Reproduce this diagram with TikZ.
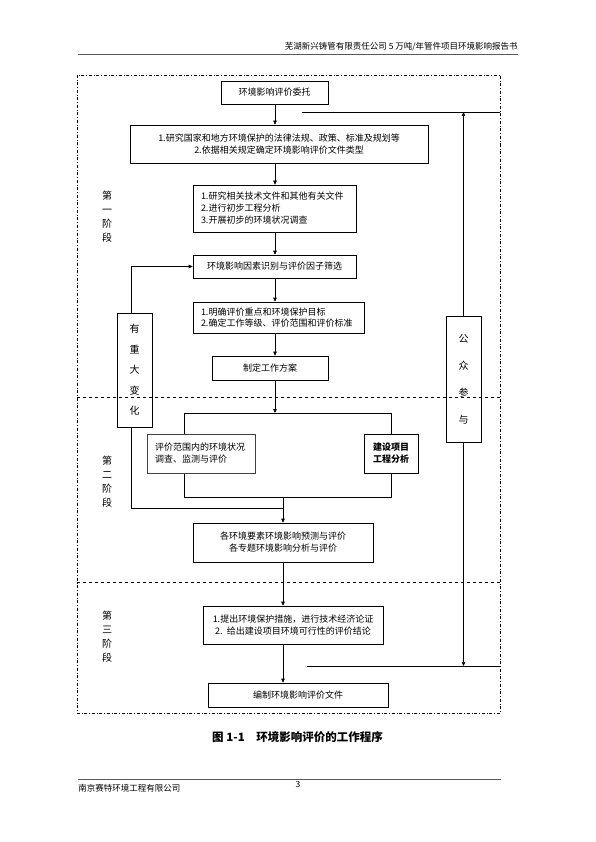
\documentclass[tikz,border=0pt]{standalone}
\usepackage{fontspec}
\setmainfont{Noto Sans CJK SC}
\usetikzlibrary{arrows.meta,positioning}
\tikzset{
  flownode/.style = {align=center, inner sep=0pt, text centered,
    font=\fontsize{9}{12}\selectfont},
  box/.style = {flownode, rectangle, draw=black, line width=0.6pt},% normal box
  box_l/.style = {box, align=left, inner xsep=8pt},% box, text to the left
  stagebox/.style = {box, font=\fontsize{10}{20.5}\selectfont},% tall side box
  stage/.style = {flownode, font=\fontsize{10}{14}\selectfont},% stage label
  frame/.style = {line width=0.5pt}
}
\begin{document}
\begin{tikzpicture}[x=1pt,y=-1pt,>={Triangle[length=4pt,width=3.5pt]},
  line width=0.6pt]
\useasboundingbox (0,0) rectangle (595,842);
% header and footer
\node [flownode, anchor=east, font=\fontsize{8.5}{10}\selectfont] (head) at (518,47)
  {芜湖新兴铸管有限责任公司 5 万吨/年管件项目环境影响报告书};
\draw [frame, gray!70!black] (78,54) -- (518,54);
\draw [frame, gray!70!black] (78,779) -- (501,779);
\node [flownode, anchor=west, font=\fontsize{8.5}{10}\selectfont] (foot) at (78,788)
  {南京赛特环境工程有限公司};
\node [flownode, font=\fontsize{8.5}{10}\selectfont] (page) at (298,784) {3};
\node [flownode, font=\fontsize{11.5}{14}\selectfont\bfseries] (caption) at (297.5,737)
  {图 1-1\quad 环境影响评价的工作程序};
% stages
\draw [frame, dash dot] (77,75) rectangle (500,713);
\draw [frame, dashed] (77,397) -- (500,397);
\draw [frame, dashed] (77,582) -- (500,582);
\node [stage] (st1) at (107,217) {第\\一\\阶\\段};
\node [stage] (st2) at (107,482) {第\\二\\阶\\段};
\node [stage] (st3) at (107,637) {第\\三\\阶\\段};
% main boxes
\node [box, minimum width=107pt, minimum height=23pt] (entrust) at (274.5,92.5)
  {环境影响评价委托};
\node [box, minimum width=298pt, minimum height=38pt] (law) at (279,144)
  {1.研究国家和地方环境保护的法律法规、政策、标准及规划等\\
   2.依据相关规定确定环境影响评价文件类型};
\node [box_l, text width=147pt, minimum height=47pt] (study) at (274.5,208.5)
  {1.研究相关技术文件和其他有关文件\\
   2.进行初步工程分析\\
   3.开展初步的环境状况调查};
\node [box, minimum width=163pt, minimum height=23pt] (factor) at (274.5,266.5)
  {环境影响因素识别与评价因子筛选};
\node [box_l, text width=155pt, minimum height=31pt, font=\fontsize{9}{11.5}\selectfont]
  (target) at (278.5,317.5)
  {1.明确评价重点和环境保护目标\\
   2.确定工作等级、评价范围和评价标准};
\node [box, minimum width=116pt, minimum height=24pt] (plan) at (270,368)
  {制定工作方案};
\node [box_l, text width=92pt, minimum height=39pt, draw=black!75,
  line width=1pt] (survey) at (201,453.5)
  {评价范围内的环境状况\\调查、监测与评价};
\node [box, minimum width=54pt, minimum height=39pt, font=\fontsize{9}{12}\selectfont\bfseries]
  (project) at (391,453.5) {建设项目\\工程分析};
\node [box, minimum width=180pt, minimum height=39pt] (predict) at (283,542.5)
  {各环境要素环境影响预测与评价\\各专题环境影响分析与评价};
\node [box, minimum width=180pt, minimum height=38pt] (measure) at (293,625)
  {1.提出环境保护措施，进行技术经济论证\\
   2.\enspace 给出建设项目环境可行性的评价结论};
\node [box, minimum width=180pt, minimum height=24pt] (report) at (298,695)
  {编制环境影响评价文件};
% side boxes
\node [stagebox, minimum width=35pt, minimum height=114pt] (change) at (134.5,370)
  {有\\重\\大\\变\\化};
\node [stagebox, minimum width=35pt, minimum height=126pt,
  font=\fontsize{10}{27}\selectfont] (public) at (463.5,379)
  {公\\众\\参\\与};
% main flow
\coordinate (axis) at (275,0);
\coordinate (axisb) at (283,0);
\draw [->] (axis |- entrust.south) -- (axis |- law.north);
\draw [->] (axis |- law.south) -- (axis |- study.north);
\draw [->] (axis |- study.south) -- (axis |- factor.north);
\draw [->] (axis |- factor.south) -- (axis |- target.north);
\draw [->] (axis |- target.south) -- (axis |- plan.north);
\coordinate (splitl) at (184,413);
\coordinate (splitr) at (391,413);
\coordinate (joinl) at (184,497);
\coordinate (joinr) at (391,497);
\draw [->] (axis |- plan.south) -- (axis |- splitl);
\draw (splitl |- survey.north) -- (splitl) -- (splitr) -- (project.north);
\draw (splitl |- survey.south) -- (joinl) -- (joinr) -- (project.south);
\draw [->] (axisb |- joinl) -- (axisb |- predict.north);
\draw [->] (axisb |- predict.south) -- (axisb |- measure.north);
\draw [->] (axisb |- measure.south) -- (axisb |- report.north);
% feedback
\coordinate (fb) at (131,0);
\coordinate (merge) at (283,508);
\draw [->] (fb |- change.north) |- (factor.west);
\draw (fb |- change.south) |- (merge);
% public participation
\coordinate (pubtl) at (302,112);
\coordinate (pubtr) at (500,112);
\coordinate (pubbl) at (307,666);
\coordinate (pubbr) at (500,666);
\draw [frame] (pubtl) -- (pubtr);
\draw [frame] (pubbl) -- (pubbr);
\draw [->] (public.north) -- (public.north |- pubtl);
\draw [->] (public.south) -- (public.south |- pubbl);
\end{tikzpicture}
\end{document}
